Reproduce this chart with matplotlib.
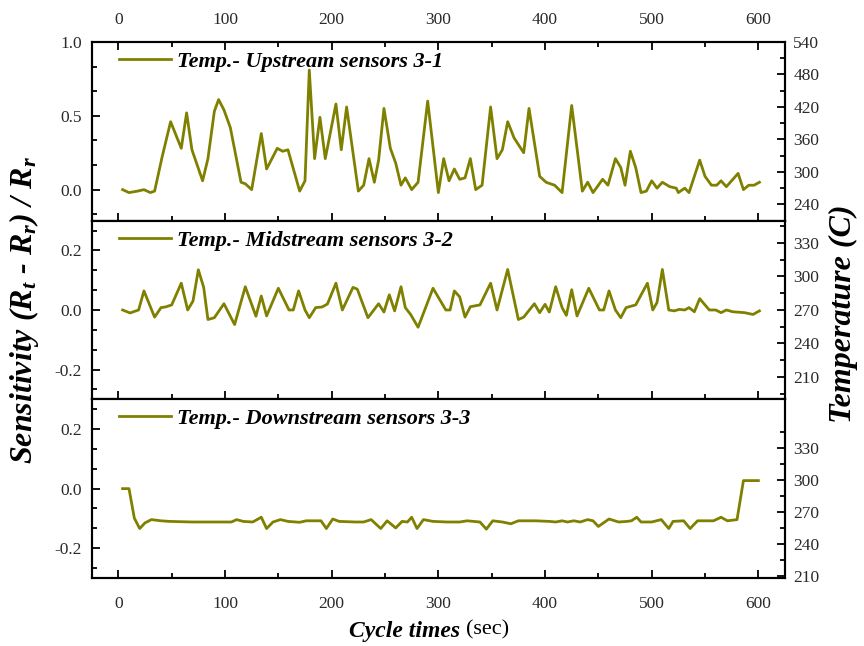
import matplotlib
matplotlib.use("Agg")
import matplotlib.pyplot as plt
from matplotlib.ticker import MultipleLocator, FixedLocator, FormatStrFormatter
from matplotlib.lines import Line2D

# ---- data -------------------------------------------------------------
up_x = [4, 10, 18, 24, 30, 34, 41, 49, 59, 64, 69, 79, 84, 90, 94, 99, 105,
        115, 119, 125, 134, 139, 149, 154, 159, 170, 175, 179, 184, 189, 194,
        204, 209, 214, 225, 230, 235, 240, 244, 249, 255, 260, 265, 269, 275,
        281, 290, 300, 305, 310, 315, 320, 325, 330, 335, 341, 349, 355, 360,
        365, 371, 380, 385, 395, 401, 409, 416, 425, 435, 440, 445, 454, 459,
        466, 471, 475, 480, 485, 490, 495, 500, 505, 510, 517, 523, 525, 531,
        535, 545, 550, 556, 561, 565, 570, 581, 586, 591, 596, 601]
up_y = [0.0, -0.02, -0.01, 0.0, -0.02, -0.01, 0.22, 0.46, 0.28, 0.52, 0.27,
        0.06, 0.21, 0.53, 0.61, 0.54, 0.42, 0.05, 0.04, 0.0, 0.38, 0.14, 0.28,
        0.26, 0.27, -0.01, 0.06, 0.81, 0.21, 0.49, 0.21, 0.58, 0.27, 0.56,
        -0.01, 0.03, 0.21, 0.05, 0.20, 0.55, 0.28, 0.18, 0.03, 0.08, 0.0, 0.05,
        0.60, -0.02, 0.21, 0.06, 0.14, 0.07, 0.08, 0.21, 0.0, 0.03, 0.56, 0.21,
        0.27, 0.46, 0.35, 0.25, 0.55, 0.09, 0.05, 0.03, -0.02, 0.57, -0.01,
        0.05, -0.02, 0.07, 0.03, 0.21, 0.15, 0.03, 0.26, 0.15, -0.02, -0.01,
        0.06, 0.01, 0.05, 0.02, 0.01, -0.02, 0.01, -0.02, 0.20, 0.09, 0.03,
        0.03, 0.06, 0.02, 0.11, 0.0, 0.03, 0.03, 0.05]

mid_x = [4, 11, 19, 24, 34, 40, 44, 50, 59, 65, 70, 75, 80, 84, 90, 99, 109,
         119, 129, 134, 139, 150, 160, 164, 169, 175, 179, 185, 191, 196, 204,
         210, 220, 224, 234, 244, 249, 254, 259, 265, 269, 274, 281, 295, 307,
         311, 315, 320, 325, 330, 339, 349, 355, 365, 375, 380, 390, 395, 400,
         404, 410, 416, 420, 425, 430, 441, 451, 455, 460, 466, 471, 476, 485,
         496, 501, 505, 510, 516, 521, 526, 531, 535, 540, 545, 554, 560, 565,
         570, 576, 587, 595, 601]
mid_y = [0.0, -0.01, 0.0, 0.064, -0.024, 0.008, 0.01, 0.017, 0.09, 0.0, 0.03,
         0.135, 0.076, -0.032, -0.026, 0.021, -0.049, 0.078, -0.021, 0.047,
         -0.02, 0.073, 0.0, 0.0, 0.064, 0.0, -0.026, 0.008, 0.01, 0.02, 0.09,
         0.0, 0.076, 0.07, -0.026, 0.021, -0.007, 0.051, -0.003, 0.078, 0.008,
         -0.015, -0.058, 0.073, 0.0, 0.0, 0.064, 0.044, -0.024, 0.011, 0.017,
         0.09, 0.0, 0.136, -0.032, -0.024, 0.021, -0.009, 0.019, -0.007, 0.078,
         0.008, -0.018, 0.068, -0.02, 0.073, 0.0, 0.0, 0.064, 0.0, -0.026,
         0.008, 0.017, 0.09, 0.0, 0.025, 0.136, 0.0, -0.003, 0.002, 0.0, 0.008,
         -0.006, 0.038, 0.0, 0.0, -0.009, 0.0, -0.006, -0.009, -0.015, -0.003]

down_x = [4, 10, 15, 20, 25, 31, 40, 48, 69, 86, 98, 106, 111, 117, 126, 134,
          139, 145, 152, 159, 170, 176, 190, 195, 201, 207, 222, 230, 237, 246,
          252, 260, 266, 271, 275, 280, 286, 295, 308, 320, 327, 333, 339, 345,
          351, 360, 368, 375, 391, 404, 410, 416, 421, 427, 433, 440, 445, 450,
          460, 469, 477, 481, 486, 490, 500, 509, 516, 520, 530, 536, 543, 558,
          565, 571, 580, 586, 600]
down_y = [0.0, 0.0, -0.099, -0.134, -0.115, -0.104, -0.108, -0.11, -0.112,
          -0.112, -0.112, -0.112, -0.104, -0.11, -0.112, -0.096, -0.134, -0.112,
          -0.104, -0.11, -0.113, -0.108, -0.108, -0.134, -0.102, -0.11, -0.112,
          -0.112, -0.104, -0.134, -0.108, -0.132, -0.11, -0.112, -0.096, -0.134,
          -0.104, -0.11, -0.112, -0.112, -0.108, -0.11, -0.112, -0.136, -0.108,
          -0.112, -0.118, -0.108, -0.108, -0.11, -0.112, -0.108, -0.112, -0.108,
          -0.112, -0.104, -0.108, -0.127, -0.102, -0.112, -0.11, -0.108, -0.096,
          -0.112, -0.112, -0.104, -0.134, -0.11, -0.108, -0.134, -0.108, -0.108,
          -0.096, -0.108, -0.104, 0.027, 0.027]

labels = ["Temp.- Upstream sensors 3-1",
          "Temp.- Midstream sensors 3-2",
          "Temp.- Downstream sensors 3-3"]
temp_ticks_top = [240, 300, 360, 420, 480, 540]
temp_ticks_low = [210, 240, 270, 300, 330]

# ---- style ------------------------------------------------------------
SERIF = "Liberation Serif"
plt.rcParams["font.family"] = [SERIF, "DejaVu Serif"]
plt.rcParams["mathtext.fontset"] = "custom"
plt.rcParams["mathtext.it"] = "Liberation Serif:italic:bold"
plt.rcParams["mathtext.rm"] = "Liberation Serif:bold"
plt.rcParams["mathtext.bf"] = "Liberation Serif:bold"

LINE_COLOR = "#808000"
TICK_COLOR = "#2a2a2a"
TICK_FS = 12.5
LEG_FS = 16

fig = plt.figure(figsize=(8.64, 6.46), dpi=100)
gs = fig.add_gridspec(3, 1, left=0.1061, right=0.9086, top=0.935,
                      bottom=0.1053, hspace=0.0)

left_lims = [(-0.21, 1.0), (-0.3, 0.3), (-0.3, 0.3)]
left_major = [0.5, 0.2, 0.2]
right_lims = [(210, 540), (190, 350), (208, 376)]
right_ticks = [temp_ticks_top, temp_ticks_low, temp_ticks_low]
series = [(up_x, up_y), (mid_x, mid_y), (down_x, down_y)]

for i in range(3):
    ax = fig.add_subplot(gs[i])
    xs, ys = series[i]
    ax.plot(xs, ys, color=LINE_COLOR, lw=2.0, solid_joinstyle="round")
    ax.set_xlim(-25, 625)
    ax.set_ylim(*left_lims[i])

    ax.xaxis.set_major_locator(MultipleLocator(100))
    ax.xaxis.set_minor_locator(MultipleLocator(50))
    ax.yaxis.set_major_locator(MultipleLocator(left_major[i]))
    ax.yaxis.set_minor_locator(MultipleLocator(left_major[i] / 3))
    ax.yaxis.set_major_formatter(FormatStrFormatter("%.1f"))

    ax.tick_params(axis="x", which="both", direction="in",
                   top=(i == 0), bottom=True,
                   labeltop=(i == 0), labelbottom=(i == 2),
                   labelsize=TICK_FS, labelcolor=TICK_COLOR,
                   pad=(10 if i == 0 else 13))
    ax.tick_params(axis="y", which="both", direction="in", left=True,
                   right=False, labelsize=TICK_FS, labelcolor=TICK_COLOR,
                   pad=7)
    ax.tick_params(which="major", length=6, width=1.3)
    ax.tick_params(which="minor", length=3.5, width=1.3)
    for s in ax.spines.values():
        s.set_linewidth(1.5)

    tw = ax.twinx()
    tw.set_ylim(*right_lims[i])
    ticks = right_ticks[i]
    step = ticks[1] - ticks[0]
    minors = [t + step / 2 for t in ticks[:-1]]
    minors = [ticks[0] - step / 2] + minors + [ticks[-1] + step / 2]
    minors = [m for m in minors if right_lims[i][0] <= m <= right_lims[i][1]]
    tw.yaxis.set_major_locator(FixedLocator(ticks))
    tw.yaxis.set_minor_locator(FixedLocator(minors))
    tw.tick_params(axis="y", which="both", direction="in",
                   labelsize=TICK_FS, labelcolor=TICK_COLOR, pad=6)
    tw.tick_params(which="major", length=6, width=1.3)
    tw.tick_params(which="minor", length=3.5, width=1.3)
    for s in tw.spines.values():
        s.set_linewidth(1.5)

    handle = Line2D([], [], color=LINE_COLOR, lw=2.0)
    ax.legend([handle], [labels[i]], loc="center left",
              bbox_to_anchor=(0.04, 0.89), frameon=False, borderpad=0,
              borderaxespad=0, handlelength=2.3, handletextpad=0.3,
              prop={"family": SERIF, "size": LEG_FS, "weight": "bold",
                    "style": "italic"})

# axis titles
fig.text(24 / 864, 1 - 310 / 646,
         r"Sensitivity (R$_t$ - R$_r$) / R$_r$",
         rotation=90, ha="center", va="center", fontsize=23,
         fontweight="bold", fontstyle="italic")
fig.text(843 / 864, 1 - 314 / 646, "Temperature (C)",
         rotation=90, ha="center", va="center", fontsize=23,
         fontweight="bold", fontstyle="italic")
fig.text(460 / 864, 1 - 632 / 646, "Cycle times", ha="right", va="center",
         fontsize=17, fontweight="bold", fontstyle="italic")
fig.text(466 / 864, 1 - 630 / 646, "(sec)", ha="left", va="center",
         fontsize=16)

fig.savefig("out.png", dpi=100)
